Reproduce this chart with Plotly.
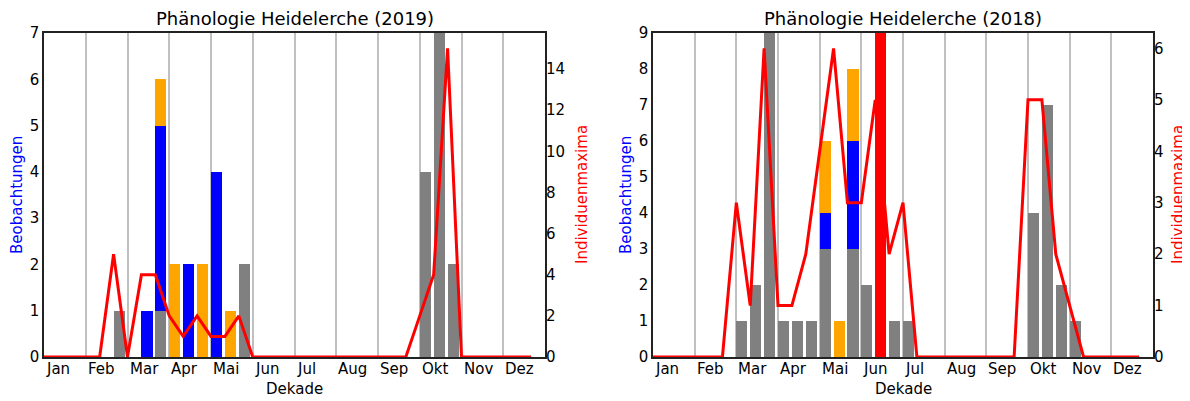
import plotly.graph_objects as go

months = ["Jan", "Feb", "Mar", "Apr", "Mai", "Jun", "Jul", "Aug", "Sep", "Okt", "Nov", "Dez"]
decades = list(range(36))

# 2019
gray_2019 = [0, 0, 0, 0, 0, 1, 0, 0, 1, 0, 0, 0, 0, 0, 2, 0, 0, 0,
             0, 0, 0, 0, 0, 0, 0, 0, 0, 4, 7, 2, 0, 0, 0, 0, 0, 0]
blue_2019 = [0, 0, 0, 0, 0, 0, 0, 1, 4, 0, 2, 0, 4, 0, 0, 0, 0, 0,
             0, 0, 0, 0, 0, 0, 0, 0, 0, 0, 0, 0, 0, 0, 0, 0, 0, 0]
orange_2019 = [0, 0, 0, 0, 0, 0, 0, 0, 1, 2, 0, 2, 0, 1, 0, 0, 0, 0,
               0, 0, 0, 0, 0, 0, 0, 0, 0, 0, 0, 0, 0, 0, 0, 0, 0, 0]
red_2019 = [0] * 36
max_2019 = [0, 0, 0, 0, 0, 5, 0, 4, 4, 2, 1, 2, 1, 1, 2, 0, 0, 0,
            0, 0, 0, 0, 0, 0, 0, 0, 0, 2, 4, 15, 0, 0, 0, 0, 0, 0]

# 2018
gray_2018 = [0, 0, 0, 0, 0, 0, 1, 2, 9, 1, 1, 1, 3, 0, 3, 2, 0, 1,
             1, 0, 0, 0, 0, 0, 0, 0, 0, 4, 7, 2, 1, 0, 0, 0, 0, 0]
blue_2018 = [0, 0, 0, 0, 0, 0, 0, 0, 0, 0, 0, 0, 1, 0, 3, 0, 0, 0,
             0, 0, 0, 0, 0, 0, 0, 0, 0, 0, 0, 0, 0, 0, 0, 0, 0, 0]
orange_2018 = [0, 0, 0, 0, 0, 0, 0, 0, 0, 0, 0, 0, 2, 1, 2, 0, 0, 0,
               0, 0, 0, 0, 0, 0, 0, 0, 0, 0, 0, 0, 0, 0, 0, 0, 0, 0]
red_2018 = [0, 0, 0, 0, 0, 0, 0, 0, 0, 0, 0, 0, 0, 0, 0, 0, 9, 0,
            0, 0, 0, 0, 0, 0, 0, 0, 0, 0, 0, 0, 0, 0, 0, 0, 0, 0]
max_2018 = [0, 0, 0, 0, 0, 0, 3, 1, 6, 1, 1, 2, 4, 6, 3, 3, 5, 2,
            3, 0, 0, 0, 0, 0, 0, 0, 0, 5, 5, 2, 1, 0, 0, 0, 0, 0]

panels = [
    ("Phänologie Heidelerche (2019)", gray_2019, blue_2019, orange_2019, red_2019, max_2019),
    ("Phänologie Heidelerche (2018)", gray_2018, blue_2018, orange_2018, red_2018, max_2018),
]

W, H = 1190, 401
OFF = 8  # page body margin


def px(x):
    return (x - OFF) / W


def py(y):
    return 1 - (y - OFF) / H


x_doms = [(px(44), px(545)), (px(653), px(1153))]
y_dom = (py(357), py(33))
right_title_off = [37, 25]

FONT = "DejaVu Sans"
FRAME = "#222222"
GRID = "#c0c0c0"

fig = go.Figure()
annotations = []
layout = {}

for p, (title, gray, blue, orange, red, mx) in enumerate(panels):
    xa = "x" if p == 0 else "x2"
    ya = "y" if p == 0 else "y3"
    ya2 = "y2" if p == 0 else "y4"
    xkey = "xaxis" if p == 0 else "xaxis2"
    ykey = "yaxis" if p == 0 else "yaxis3"
    y2key = "yaxis2" if p == 0 else "yaxis4"

    for vals, col in [(gray, "#808080"), (blue, "#0000ff"), (orange, "#ffa500"), (red, "#ff0000")]:
        fig.add_trace(go.Bar(x=decades, y=vals, offset=0, width=0.8,
                             marker=dict(color=col, line=dict(width=0)),
                             xaxis=xa, yaxis=ya, showlegend=False, hoverinfo="skip"))
    fig.add_trace(go.Scatter(x=decades, y=mx, mode="lines",
                             line=dict(color="#ff0000", width=3),
                             xaxis=xa, yaxis=ya2, showlegend=False, cliponaxis=False))

    ymax = max(g + b + o for g, b, o in zip(gray, blue, orange))
    y2max = max(mx) * 1.05

    layout[xkey] = dict(domain=list(x_doms[p]), range=[0, 36], anchor=ya, automargin=False,
                        tickvals=[3 * i for i in range(1, 12)], showticklabels=False,
                        showgrid=True, gridcolor=GRID, gridwidth=1.5, zeroline=False,
                        showline=True, mirror=True, linecolor=FRAME, linewidth=1.5,
                        ticks="", fixedrange=True)
    layout[ykey] = dict(domain=list(y_dom), range=[0, ymax], anchor=xa, automargin=False,
                        tickvals=list(range(0, ymax + 1)), showgrid=False, zeroline=False,
                        showline=True, mirror=True, linecolor=FRAME, linewidth=1.5,
                        ticks="", tickfont=dict(family=FONT, size=15, color="black"),
                        fixedrange=True)
    layout[y2key] = dict(overlaying=ya, side="right", anchor=xa, range=[0, y2max],
                         automargin=False,
                         dtick=2 if max(mx) > 8 else 1, showgrid=False, zeroline=False,
                         showline=False, ticks="",
                         tickfont=dict(family=FONT, size=15, color="black"), fixedrange=True)

    x0, x1 = x_doms[p]
    xc = (x0 + x1) / 2
    annotations.append(dict(text=title, x=xc, y=py(18), xref="paper", yref="paper",
                            xanchor="center", yanchor="middle", showarrow=False,
                            font=dict(family=FONT, size=18, color="black")))
    annotations.append(dict(text="Dekade", x=xc, y=py(389), xref="paper", yref="paper",
                            xanchor="center", yanchor="middle", showarrow=False,
                            font=dict(family=FONT, size=15, color="black")))
    annotations.append(dict(text="Beobachtungen", x=x0 - 27 / W, y=(y_dom[0] + y_dom[1]) / 2,
                            xref="paper", yref="paper", xanchor="center", yanchor="middle",
                            textangle=-90, showarrow=False,
                            font=dict(family=FONT, size=15, color="#0000ff")))
    annotations.append(dict(text="Individuenmaxima", x=x1 + right_title_off[p] / W,
                            y=(y_dom[0] + y_dom[1]) / 2,
                            xref="paper", yref="paper", xanchor="center", yanchor="middle",
                            textangle=-90, showarrow=False,
                            font=dict(family=FONT, size=15, color="#ff0000")))
    for i, m in enumerate(months):
        annotations.append(dict(text=m, x=3 * i, y=y_dom[0], xref=xa, yref="paper",
                                xanchor="left", yanchor="top", xshift=0, yshift=-1,
                                showarrow=False,
                                font=dict(family=FONT, size=15, color="black")))

fig.update_layout(
    width=W, height=H, margin=dict(l=0, r=0, t=0, b=0, autoexpand=False),
    paper_bgcolor="white", plot_bgcolor="white",
    barmode="stack", bargap=0, annotations=annotations,
    **layout,
)

fig.write_html("out.html")
